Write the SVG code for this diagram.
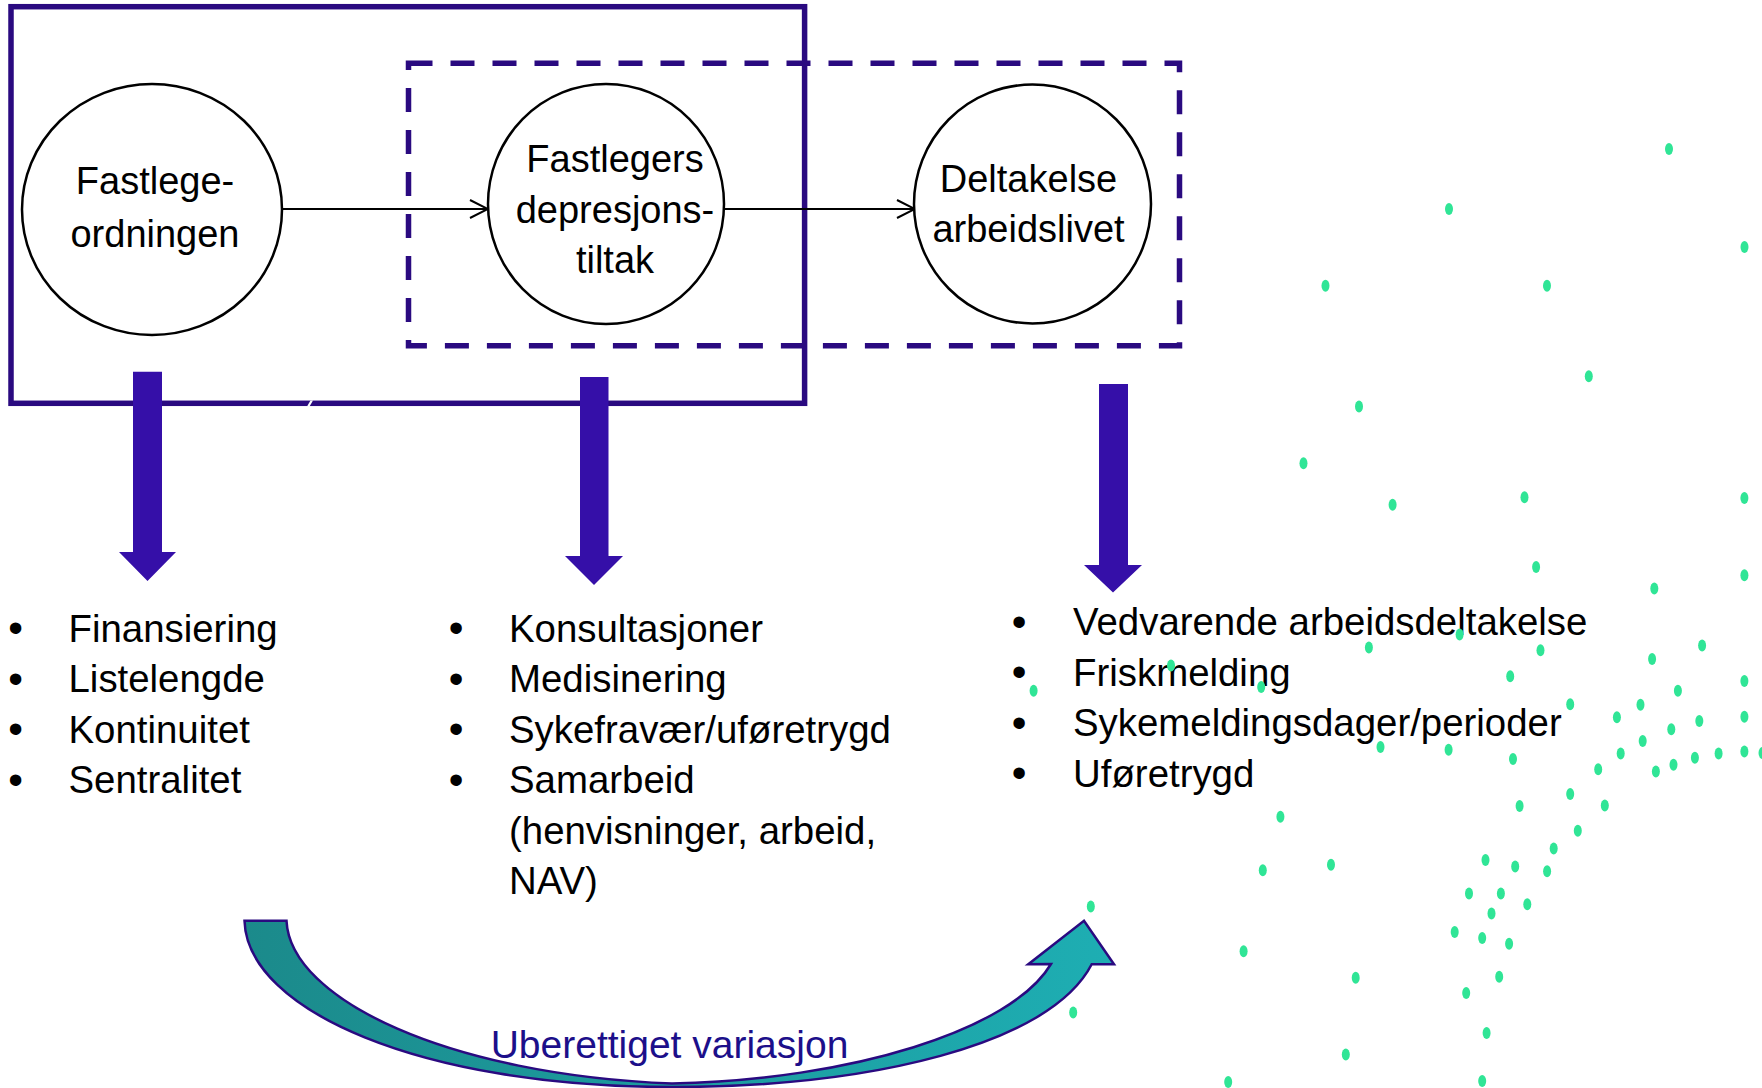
<svg xmlns="http://www.w3.org/2000/svg" width="1762" height="1088" viewBox="0 0 1762 1088">
  <defs>
    <style>
      .t { font-family: 'Liberation Sans', Arial, sans-serif; fill: #000; }
      .node { fill: #fff; stroke: #000; stroke-width: 2.5; }
      .nt { font-size: 38px; text-anchor: middle; }
      .li { font-size: 38.4px; }
      .bu { font-size: 42px; text-anchor: middle; }
      .down { fill: #350fa8; }
      .conn { stroke: #000; stroke-width: 2; fill: none; }
      .dot { fill: #30e596; }
      .frame { fill: none; stroke: #2a0a80; stroke-width: 5.5; }
    </style>
    <marker id="open" viewBox="0 0 20 20" refX="19" refY="10" markerWidth="20" markerHeight="20" markerUnits="userSpaceOnUse" orient="auto">
      <path d="M1,1 L19,10 L1,19" fill="none" stroke="#000" stroke-width="2"/>
    </marker>
    <linearGradient id="teal" x1="0" y1="0" x2="1" y2="0">
      <stop offset="0" stop-color="#1b8a8b"/>
      <stop offset="1" stop-color="#1eaeb3"/>
    </linearGradient>
  </defs>
  <rect width="1762" height="1088" fill="#fff"/>

  <!-- frames -->
  <g id="frames">
    <rect id="frame-solid" class="frame" x="11" y="6.7" width="793.6" height="396.6"/>
    <rect id="frame-dashed" class="frame" x="408.5" y="63.3" width="771" height="282.4" stroke-dasharray="24 18"/>
    <polygon points="307,406.5 309.5,406.5 313,400.5 310.5,400.5" fill="#fff"/>
  </g>

  <!-- connectors -->
  <g id="connectors">
    <line class="conn" x1="283" y1="209" x2="488" y2="209" marker-end="url(#open)"/>
    <line class="conn" x1="724" y1="209" x2="915" y2="209" marker-end="url(#open)"/>
  </g>

  <!-- nodes -->
  <g id="node-fastlegeordningen">
    <ellipse class="node" cx="152" cy="209.5" rx="130" ry="125.5"/>
    <text class="t nt" x="155" y="194">Fastlege-</text>
    <text class="t nt" x="155" y="246.5">ordningen</text>
  </g>
  <g id="node-tiltak">
    <ellipse class="node" cx="606" cy="204" rx="118" ry="120"/>
    <text class="t nt" x="615" y="172">Fastlegers</text>
    <text class="t nt" x="615" y="222.5">depresjons-</text>
    <text class="t nt" x="615" y="273">tiltak</text>
  </g>
  <g id="node-arbeidslivet">
    <ellipse class="node" cx="1032.5" cy="204" rx="118.5" ry="119.5"/>
    <text class="t nt" x="1028.5" y="192">Deltakelse</text>
    <text class="t nt" x="1028.5" y="242">arbeidslivet</text>
  </g>

  <!-- down arrows -->
  <g id="down-arrows">
    <polygon class="down" points="133,371.7 162,371.7 162,552 176,552 147.5,581 119,552 133,552"/>
    <polygon class="down" points="580,377 608.5,377 608.5,556 623,556 594,585 565,556 580,556"/>
    <polygon class="down" points="1099,384 1128,384 1128,565 1142,565 1113,592.5 1084,565 1099,565"/>
  </g>

  <!-- lists -->
  <g id="list-fastlege">
    <text class="t bu" x="15.5" y="642">•</text>
    <text class="t bu" x="15.5" y="692.5">•</text>
    <text class="t bu" x="15.5" y="743">•</text>
    <text class="t bu" x="15.5" y="793.5">•</text>
    <text class="t li" x="68.5" y="641.5">Finansiering</text>
    <text class="t li" x="68.5" y="692">Listelengde</text>
    <text class="t li" x="68.5" y="742.5">Kontinuitet</text>
    <text class="t li" x="68.5" y="793">Sentralitet</text>
  </g>
  <g id="list-tiltak">
    <text class="t bu" x="456" y="642">•</text>
    <text class="t bu" x="456" y="692.5">•</text>
    <text class="t bu" x="456" y="743">•</text>
    <text class="t bu" x="456" y="793.5">•</text>
    <text class="t li" x="509" y="641.5">Konsultasjoner</text>
    <text class="t li" x="509" y="692">Medisinering</text>
    <text class="t li" x="509" y="742.5">Sykefravær/uføretrygd</text>
    <text class="t li" x="509" y="793">Samarbeid</text>
    <text class="t li" x="509" y="843.5">(henvisninger, arbeid,</text>
    <text class="t li" x="509" y="894">NAV)</text>
  </g>
  <g id="list-arbeid">
    <text class="t bu" x="1019" y="635.5">•</text>
    <text class="t bu" x="1019" y="686">•</text>
    <text class="t bu" x="1019" y="736.5">•</text>
    <text class="t bu" x="1019" y="787">•</text>
    <text class="t li" x="1073" y="635">Vedvarende arbeidsdeltakelse</text>
    <text class="t li" x="1073" y="685.5">Friskmelding</text>
    <text class="t li" x="1073" y="736">Sykemeldingsdager/perioder</text>
    <text class="t li" x="1073" y="786.5">Uføretrygd</text>
  </g>

  <!-- curved arrow -->
  <g id="variasjon">
    <path d="M244.5,920.7 L286.5,920.7 C290,1000 450,1075 672,1083.5 C850,1080 1012,1030 1051,964 L1028.3,964.3 L1084,920.7 L1114,964.3 L1091.7,964.3 C1050,1045 870,1087 672,1087 C420,1087 247,1010 244.5,920.7 Z" fill="url(#teal)" stroke="#2a0a80" stroke-width="2.5" stroke-linejoin="miter"/>
    <text class="t" x="669.5" y="1058" font-size="39" text-anchor="middle" style="fill:#1c0f8a">Uberettiget variasjon</text>
  </g>

  <!-- dots -->
  <g id="dots">
    <ellipse class="dot" cx="1669" cy="149" rx="4" ry="6"/>
    <ellipse class="dot" cx="1449" cy="209" rx="4" ry="6"/>
    <ellipse class="dot" cx="1744.5" cy="247" rx="4" ry="6"/>
    <ellipse class="dot" cx="1325.5" cy="285.7" rx="4" ry="6"/>
    <ellipse class="dot" cx="1547" cy="285.7" rx="4" ry="6"/>
    <ellipse class="dot" cx="1588.8" cy="376.3" rx="4" ry="6"/>
    <ellipse class="dot" cx="1359" cy="406.5" rx="4" ry="6"/>
    <ellipse class="dot" cx="1303.5" cy="463.3" rx="4" ry="6"/>
    <ellipse class="dot" cx="1392.6" cy="504.7" rx="4" ry="6"/>
    <ellipse class="dot" cx="1524.5" cy="497.2" rx="4" ry="6"/>
    <ellipse class="dot" cx="1744.4" cy="498.1" rx="4" ry="6"/>
    <ellipse class="dot" cx="1536.1" cy="567" rx="4" ry="6"/>
    <ellipse class="dot" cx="1654.3" cy="588.4" rx="4" ry="6"/>
    <ellipse class="dot" cx="1744.4" cy="575.3" rx="4" ry="6"/>
    <ellipse class="dot" cx="1702.1" cy="645.6" rx="4" ry="6"/>
    <ellipse class="dot" cx="1652.1" cy="659.1" rx="4" ry="6"/>
    <ellipse class="dot" cx="1459.6" cy="634.4" rx="4" ry="6"/>
    <ellipse class="dot" cx="1368.9" cy="647.4" rx="4" ry="6"/>
    <ellipse class="dot" cx="1540.5" cy="650.2" rx="4" ry="6"/>
    <ellipse class="dot" cx="1171" cy="665.6" rx="4" ry="6"/>
    <ellipse class="dot" cx="1261.2" cy="687" rx="4" ry="6"/>
    <ellipse class="dot" cx="1033.6" cy="690.7" rx="4" ry="6"/>
    <ellipse class="dot" cx="1510.2" cy="676.3" rx="4" ry="6"/>
    <ellipse class="dot" cx="1677.9" cy="690.7" rx="4" ry="6"/>
    <ellipse class="dot" cx="1744.4" cy="680.9" rx="4" ry="6"/>
    <ellipse class="dot" cx="1570.2" cy="704.2" rx="4" ry="6"/>
    <ellipse class="dot" cx="1640.5" cy="704.7" rx="4" ry="6"/>
    <ellipse class="dot" cx="1616.9" cy="717.2" rx="4" ry="6"/>
    <ellipse class="dot" cx="1744.4" cy="716.7" rx="4" ry="6"/>
    <ellipse class="dot" cx="1699.3" cy="720.9" rx="4" ry="6"/>
    <ellipse class="dot" cx="1671.3" cy="729.3" rx="4" ry="6"/>
    <ellipse class="dot" cx="1642.7" cy="740.9" rx="4" ry="6"/>
    <ellipse class="dot" cx="1380.5" cy="747" rx="4" ry="6"/>
    <ellipse class="dot" cx="1448.6" cy="749.8" rx="4" ry="6"/>
    <ellipse class="dot" cx="1513" cy="759.1" rx="4" ry="6"/>
    <ellipse class="dot" cx="1620.7" cy="753.5" rx="4" ry="6"/>
    <ellipse class="dot" cx="1744.4" cy="751.6" rx="4" ry="6"/>
    <ellipse class="dot" cx="1762.5" cy="753" rx="4" ry="6"/>
    <ellipse class="dot" cx="1718.6" cy="753.5" rx="4" ry="6"/>
    <ellipse class="dot" cx="1694.9" cy="757.7" rx="4" ry="6"/>
    <ellipse class="dot" cx="1673.5" cy="764.7" rx="4" ry="6"/>
    <ellipse class="dot" cx="1655.9" cy="771.6" rx="4" ry="6"/>
    <ellipse class="dot" cx="1598.2" cy="769.3" rx="4" ry="6"/>
    <ellipse class="dot" cx="1570.2" cy="794" rx="4" ry="6"/>
    <ellipse class="dot" cx="1519.6" cy="806" rx="4" ry="6"/>
    <ellipse class="dot" cx="1604.8" cy="805.6" rx="4" ry="6"/>
    <ellipse class="dot" cx="1280.4" cy="816.7" rx="4" ry="6"/>
    <ellipse class="dot" cx="1577.8" cy="830.7" rx="4" ry="6"/>
    <ellipse class="dot" cx="1553.7" cy="848.4" rx="4" ry="6"/>
    <ellipse class="dot" cx="1262.8" cy="870.2" rx="4" ry="6"/>
    <ellipse class="dot" cx="1331" cy="864.7" rx="4" ry="6"/>
    <ellipse class="dot" cx="1485.5" cy="860" rx="4" ry="6"/>
    <ellipse class="dot" cx="1515.2" cy="866.5" rx="4" ry="6"/>
    <ellipse class="dot" cx="1547.1" cy="871.2" rx="4" ry="6"/>
    <ellipse class="dot" cx="1469" cy="893.5" rx="4" ry="6"/>
    <ellipse class="dot" cx="1500.9" cy="893.5" rx="4" ry="6"/>
    <ellipse class="dot" cx="1527.3" cy="904.2" rx="4" ry="6"/>
    <ellipse class="dot" cx="1491.5" cy="913.5" rx="4" ry="6"/>
    <ellipse class="dot" cx="1090.8" cy="906.5" rx="4" ry="6"/>
    <ellipse class="dot" cx="1454.7" cy="932.1" rx="4" ry="6"/>
    <ellipse class="dot" cx="1482.2" cy="938.1" rx="4" ry="6"/>
    <ellipse class="dot" cx="1509.1" cy="943.7" rx="4" ry="6"/>
    <ellipse class="dot" cx="1243.6" cy="951.2" rx="4" ry="6"/>
    <ellipse class="dot" cx="1355.7" cy="977.7" rx="4" ry="6"/>
    <ellipse class="dot" cx="1499.2" cy="976.7" rx="4" ry="6"/>
    <ellipse class="dot" cx="1466.2" cy="993" rx="4" ry="6"/>
    <ellipse class="dot" cx="1073.2" cy="1012.6" rx="4" ry="6"/>
    <ellipse class="dot" cx="1486.6" cy="1033" rx="4" ry="6"/>
    <ellipse class="dot" cx="1345.8" cy="1054.4" rx="4" ry="6"/>
    <ellipse class="dot" cx="1228.2" cy="1081.9" rx="4" ry="6"/>
    <ellipse class="dot" cx="1482.2" cy="1081" rx="4" ry="6"/>
  </g>
</svg>
